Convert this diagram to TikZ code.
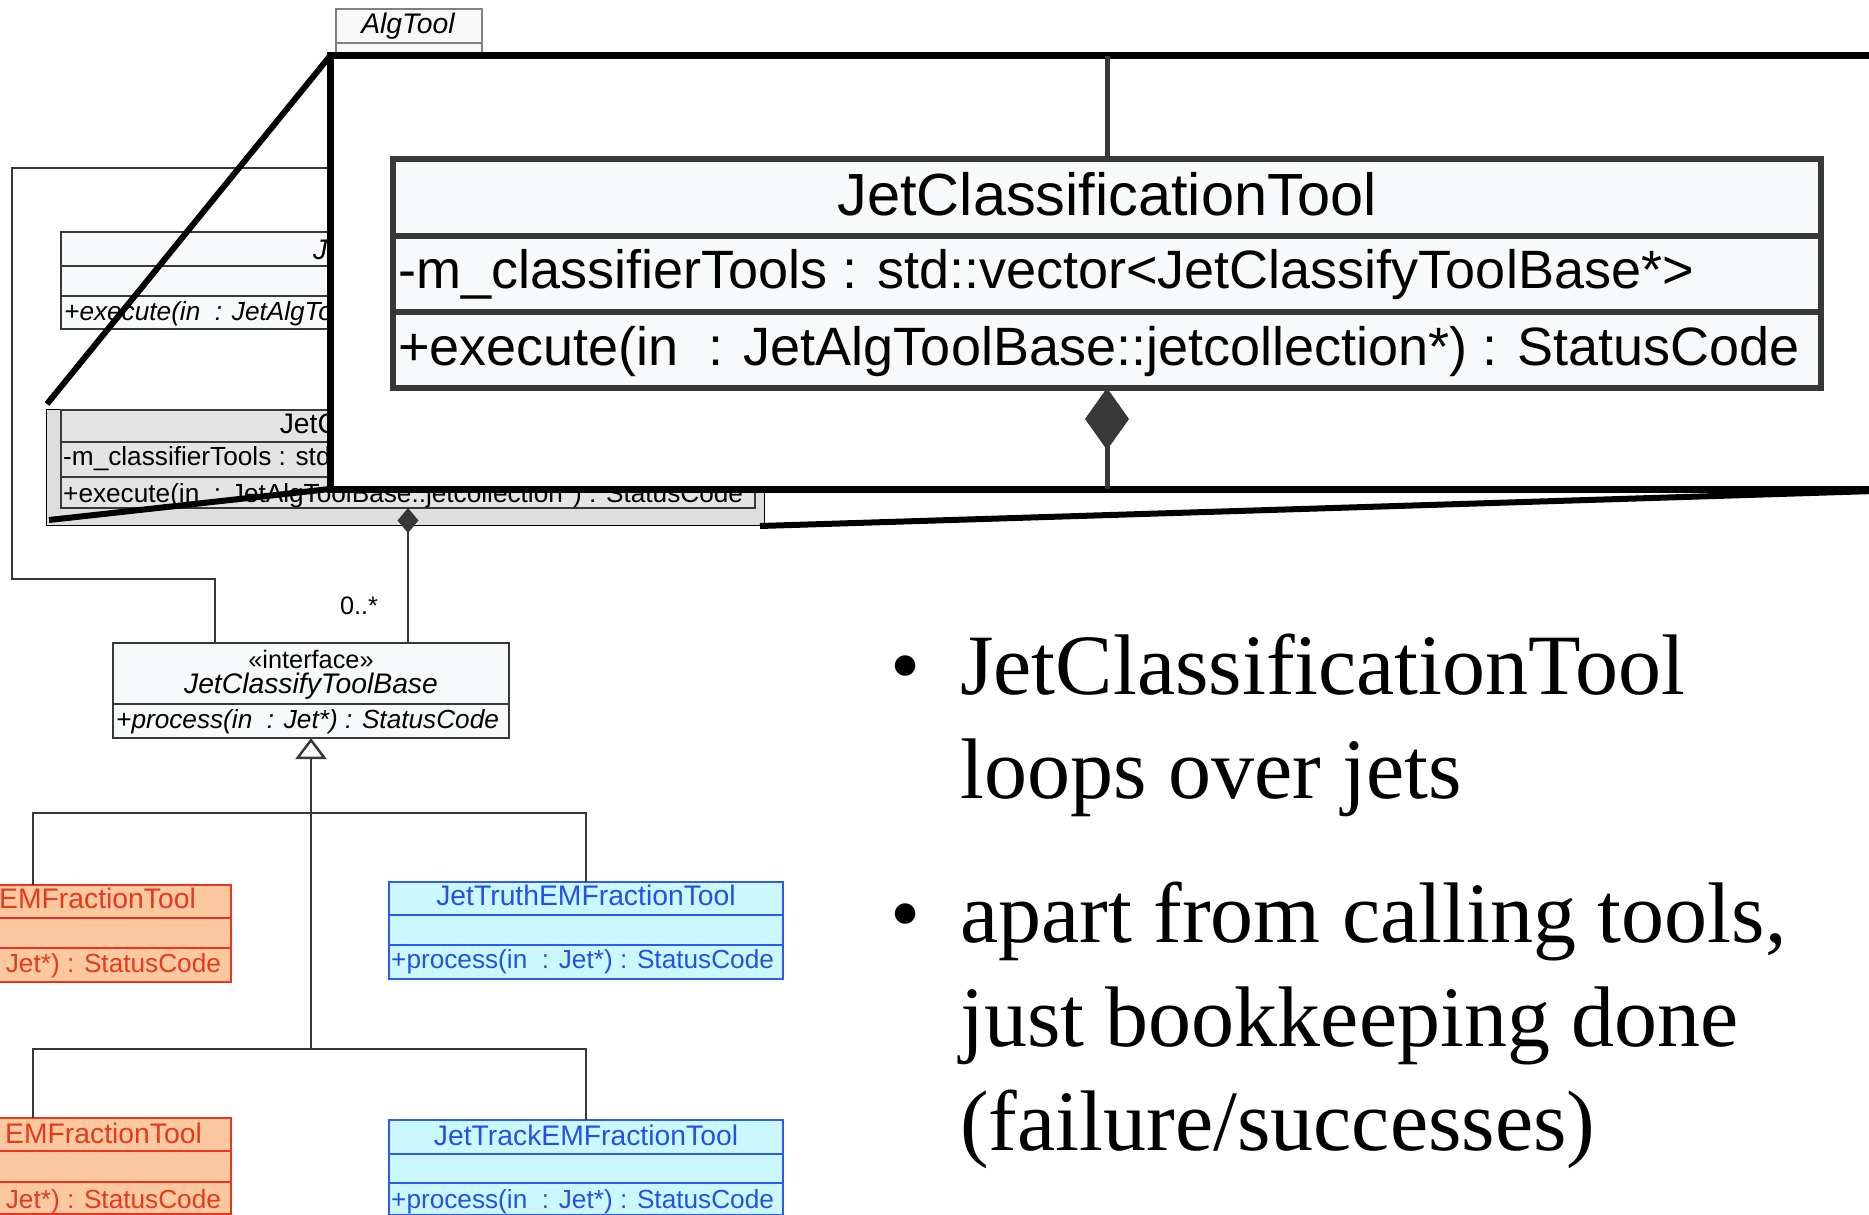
\documentclass[tikz,border=0pt]{standalone}
\usepackage{fontspec}
\setmainfont{Liberation Serif}
\setsansfont{Liberation Sans}
\usetikzlibrary{positioning}
\usetikzlibrary{arrows.meta}

\definecolor{umldark}{HTML}{383838}
\definecolor{algfill}{HTML}{F8F8F8}
\definecolor{alggrey}{HTML}{808080}
\definecolor{umlgrey}{HTML}{DEDEDE}
\definecolor{clsgrey}{HTML}{E4E4E4}
\definecolor{umlwhite}{HTML}{F7FAFA}
\definecolor{orfill}{HTML}{FBC8A0}
\definecolor{ordraw}{HTML}{EE3322}
\definecolor{ortext}{HTML}{E43A1E}
\definecolor{blfill}{HTML}{CBF8FF}
\definecolor{bldraw}{HTML}{2E5BF5}
\definecolor{bltext}{HTML}{2351E6}

\tikzset{
  umlrow/.style={draw=umldark, line width=2.5pt, fill=umlwhite, inner sep=0pt, outer sep=0pt},
  orrow/.style={umlrow, fill=orfill, draw=ordraw, minimum width=396pt},
  blrow/.style={umlrow, fill=blfill, draw=bldraw, minimum width=394pt},
  bigrow/.style={umlrow, line width=6pt, minimum width=1428pt},
  umlconn/.style={draw=umldark, line width=2.5pt},
  bigconn/.style={draw=umldark, line width=5pt},
  ttl/.style={font=\sffamily\fontsize{28.3}{30}\selectfont, inner sep=0pt, anchor=base},
  mbr/.style={font=\sffamily\fontsize{26.2}{28}\selectfont, inner sep=0pt, anchor=base west},
  stereo/.style={font=\sffamily\fontsize{25.3}{27}\selectfont, inner sep=0pt, anchor=base},
  bigttl/.style={font=\sffamily\fontsize{59.5}{61}\selectfont, inner sep=0pt, anchor=base},
  bigmbr/.style={font=\sffamily\fontsize{54}{56}\selectfont, inner sep=0pt, anchor=base west},
  magbox/.style={draw=black, line width=7pt, fill=white, inner sep=0pt, outer sep=0pt},
  zoomline/.style={draw=black, line width=6pt},
  bullettext/.style={font=\rmfamily\fontsize{86}{104}\selectfont, inner sep=0pt, anchor=base west}
}

\begin{document}
\begin{tikzpicture}[x=1pt, y=-1pt]
    \useasboundingbox (0,0) rectangle (1869,1215);
    \clip (0,0) rectangle (1869,1215);

    % AlgTool
    \node[umlrow, fill=algfill, draw=alggrey, line width=2pt, minimum width=146pt, minimum height=34pt, anchor=north] (algT) at (409,9) {};
    \node[umlrow, fill=algfill, draw=alggrey, line width=2pt, minimum width=146pt, minimum height=30pt, below=0pt of algT] (algA) {};
    \node[ttl] (algTxt) at (408,34) {\itshape AlgTool};

    % JetAlgToolBase (mostly under the zoom box)
    \node[umlrow, minimum width=700pt, minimum height=34pt, anchor=north] (jabT) at (411,232) {};
    \node[umlrow, minimum width=700pt, minimum height=30pt, below=0pt of jabT] (jabA) {};
    \node[umlrow, minimum width=700pt, minimum height=33pt, below=0pt of jabA] (jabO) {};
    \node[ttl] (jabTxt) at (411,259) {\itshape JetAlgToolBase};
    \node[mbr] (jabOp) at (64,320) {\itshape +execute(in\ \ : JetAlgToolBase::jetcollection*) : StatusCode};

    % JetClassificationTool on its grey background
    \node[draw=black, line width=1pt, fill=umlgrey, minimum width=718pt, minimum height=116pt, anchor=north west, inner sep=0pt] (grayarea) at (46,409) {};
    \node[umlrow, fill=clsgrey, minimum width=694pt, minimum height=32pt, anchor=north] (clsT) at (408,410) {};
    \node[umlrow, fill=clsgrey, minimum width=694pt, minimum height=35pt, below=0pt of clsT] (clsA) {};
    \node[umlrow, fill=clsgrey, minimum width=694pt, minimum height=31pt, below=0pt of clsA] (clsO) {};
    \node[ttl] (clsTxt) at (408,433) {JetClassificationTool};
    \node[mbr] (clsAt) at (63,465) {-m\_classifierTools : std::vector<JetClassifyToolBase*>};
    \node[mbr] (clsOp) at (63,502) {+execute(in\ \ : JetAlgToolBase::jetcollection*) : StatusCode};

    % JetClassifyToolBase
    \node[umlrow, minimum width=396pt, minimum height=61pt, anchor=north] (cbaseT) at (311,643) {};
    \node[umlrow, minimum width=396pt, minimum height=34pt, below=0pt of cbaseT] (cbaseO) {};
    \node[stereo] (cbaseSt) at (311,668) {«interface»};
    \node[ttl] (cbaseTxt) at (311,693) {\itshape JetClassifyToolBase};
    \node[mbr] (cbaseOp) at (116,728) {\itshape +process(in\ \ : Jet*) : StatusCode};

    % Composition and the long link up to AlgTool
    \draw[umlconn, {Diamond[length=25pt, width=21pt]}-] (clsO.south) -- (clsO.south |- cbaseT.north);
    \node[stereo, anchor=center] (mult) at (359,606) {0..*};
    \coordinate (elbowA) at (12,579);
    \coordinate (elbowB) at (12,168);
    \draw[umlconn] ([xshift=-96pt]cbaseT.north) |- (elbowA) -- (elbowB) -| (algA.south);

    % Derived tools
    \node[orrow, minimum height=33pt, anchor=north] (orAT) at (33,885) {};
    \node[orrow, minimum height=30pt, below=0pt of orAT] (orAA) {};
    \node[orrow, minimum height=34pt, below=0pt of orAA] (orAO) {};
    \node[ttl, anchor=base east, text=ortext] (orATxt) at (196,908) {EMFractionTool};
    \node[mbr, text=ortext] (orAOp) at (-162,972) {+process(in\ \ : Jet*) : StatusCode};

    \node[blrow, minimum height=33pt, anchor=north] (blAT) at (586,882) {};
    \node[blrow, minimum height=30pt, below=0pt of blAT] (blAA) {};
    \node[blrow, minimum height=34pt, below=0pt of blAA] (blAO) {};
    \node[ttl, text=bltext] (blATxt) at (586,905) {JetTruthEMFractionTool};
    \node[mbr, text=bltext] (blAOp) at (391,968) {+process(in\ \ : Jet*) : StatusCode};

    \node[orrow, minimum height=33pt, anchor=north] (orBT) at (33,1118) {};
    \node[orrow, minimum height=31pt, below=0pt of orBT] (orBA) {};
    \node[orrow, minimum height=32pt, below=0pt of orBA] (orBO) {};
    \node[ttl, anchor=base east, text=ortext] (orBTxt) at (202,1143) {EMFractionTool};
    \node[mbr, text=ortext] (orBOp) at (-162,1208) {+process(in\ \ : Jet*) : StatusCode};

    \node[blrow, minimum height=34pt, anchor=north] (blBT) at (586,1120) {};
    \node[blrow, minimum height=29pt, below=0pt of blBT] (blBA) {};
    \node[blrow, minimum height=32pt, below=0pt of blBA] (blBO) {};
    \node[ttl, text=bltext] (blBTxt) at (586,1145) {JetTrackEMFractionTool};
    \node[mbr, text=bltext] (blBOp) at (391,1208) {+process(in\ \ : Jet*) : StatusCode};

    % Inheritance tree
    \coordinate (forkA) at (311,813);
    \coordinate (forkB) at (311,1049);
    \draw[umlconn, -{Triangle[open, length=21pt, width=31pt]}] (forkB) -- (cbaseO.south);
    \draw[umlconn] (orAT.north) |- (forkA) -| (blAT.north);
    \draw[umlconn] (orBT.north) |- (forkB) -| (blBT.north);

    % Zoom box
    \node[magbox, minimum width=1608pt, minimum height=433pt, anchor=north west] (mag) at (330,56) {};
    \node[bigrow, minimum height=77pt, anchor=north] (bigT) at (1107,159) {};
    \node[bigrow, minimum height=76pt, below=0pt of bigT] (bigA) {};
    \node[bigrow, minimum height=76pt, below=0pt of bigA] (bigO) {};
    \node[bigttl] (bigTxt) at (1107,215) {JetClassificationTool};
    \node[bigmbr] (bigAt) at (398,288) {-m\_classifierTools : std::vector<JetClassifyToolBase*>};
    \node[bigmbr] (bigOp) at (398,365) {+execute(in\ \ : JetAlgToolBase::jetcollection*) : StatusCode};
    \draw[bigconn] (bigT.north) -- (bigT.north |- mag.north);
    \draw[bigconn, {Diamond[length=62pt, width=44pt]}-] (bigO.south) -- (bigO.south |- mag.south);

    % Lines from the zoom box back to the grey area
    \coordinate (srcTL) at (47,404);
    \coordinate (srcBL) at (49,520);
    \coordinate (srcBR) at (760,526);
    \draw[zoomline] (mag.north west) -- (srcTL);
    \draw[zoomline] (mag.south west) -- (srcBL);
    \draw[zoomline] (mag.south east) -- (srcBR);

    % Bullet text
    \node[bullettext] (dotA) at (890,694) {\textbullet};
    \node[bullettext] (ptA1) at (960,694) {JetClassificationTool};
    \node[bullettext] (ptA2) at (960,798) {loops over jets};
    \node[bullettext] (dotB) at (890,942) {\textbullet};
    \node[bullettext] (ptB1) at (960,942) {apart from calling tools,};
    \node[bullettext] (ptB2) at (960,1046) {just bookkeeping done};
    \node[bullettext] (ptB3) at (960,1150) {(failure/successes)};
\end{tikzpicture}
\end{document}
